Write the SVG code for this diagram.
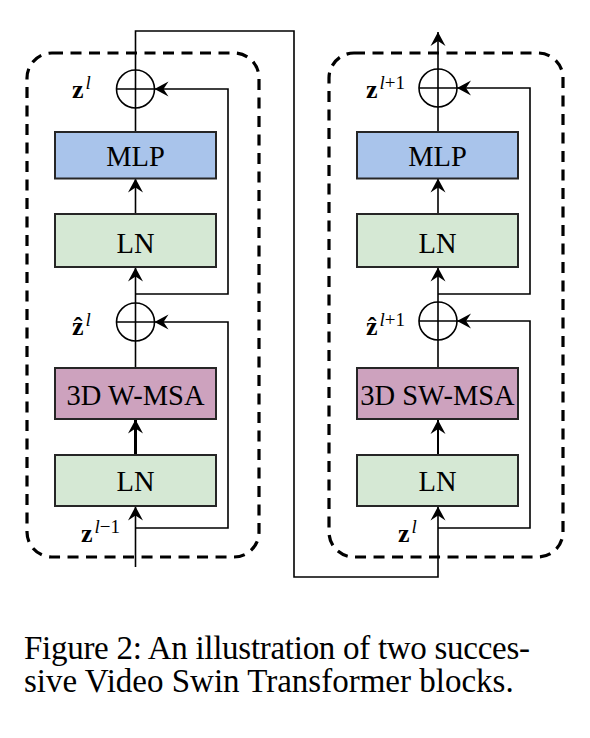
<svg xmlns="http://www.w3.org/2000/svg" width="590" height="738" viewBox="0 0 590 738">
<defs>
<style>
.dash{fill:none;stroke:#000;stroke-width:3.2;stroke-dasharray:11 7.5}
.box{stroke:#262626;stroke-width:2}
.mlp{fill:#A9C4EB}
.ln{fill:#D5E8D4}
.msa{fill:#CDA2BE}
.bt{font-family:"Liberation Serif",serif;font-size:28.5px;fill:#000;text-anchor:middle}
.line{fill:none;stroke:#000;stroke-width:1.6}
.arr{marker-end:url(#ah)}
.circ{fill:none;stroke:#000;stroke-width:1.6}
.mz{font-family:"Liberation Serif",serif;font-size:26px;font-weight:bold;fill:#000}
.sup{font-family:"Liberation Serif",serif;font-size:19px;font-weight:normal}
.it{font-style:italic}
.cap{font-family:"Liberation Serif",serif;font-size:33px;fill:#000}
</style>
<marker id="ah" markerUnits="userSpaceOnUse" viewBox="-15 -8 16 16" refX="0" refY="0" markerWidth="16" markerHeight="16" orient="auto">
<path d="M0,0 L-14,-7.5 L-9,0 L-14,7.5 Z" fill="#000"/>
</marker>
</defs>
<rect width="590" height="738" fill="#fff"/>

<g id="block1">
<rect class="dash" x="27" y="53" width="232" height="504" rx="25"/>
</g>
<g id="block2">
<rect class="dash" x="329" y="53" width="234" height="504" rx="25"/>
</g>

<g id="connectors">
<path class="line arr" d="M135.5,70 V31 H294 V577 H438 V506.5"/>
<path class="line" d="M135.5,108 V132"/>
<path class="line arr" d="M135.5,214 V178.5"/>
<path class="line arr" d="M135.5,303 V267.5"/>
<path class="line arr" d="M135.5,294 H228 V89 H154.5"/>
<path class="line" d="M135.5,368 V341"/>
<path class="line arr" style="stroke-width:3" d="M135.5,455 V419.5"/>
<path class="line arr" d="M135.5,567 V506.5"/>
<path class="line arr" d="M135.5,528 H228 V322 H154.5"/>

<path class="line arr" d="M438,69 V32"/>
<path class="line" d="M438,107 V132"/>
<path class="line arr" d="M438,214 V178.5"/>
<path class="line arr" d="M438,302 V267.5"/>
<path class="line arr" d="M438,294 H530 V88 H457"/>
<path class="line" d="M438,368 V340"/>
<path class="line arr" style="stroke-width:2" d="M438,455 V420"/>
<path class="line arr" d="M438,528 H530 V321 H457"/>
</g>

<g id="add1">
<circle class="circ" cx="135.5" cy="89" r="19"/>
<path class="line" d="M116.5,89 H154.5 M135.5,70 V108"/>
</g>
<g id="add2">
<circle class="circ" cx="135.5" cy="322" r="19"/>
<path class="line" d="M116.5,322 H154.5 M135.5,303 V341"/>
</g>
<g id="add3">
<circle class="circ" cx="438" cy="88" r="19"/>
<path class="line" d="M419,88 H457 M438,69 V107"/>
</g>
<g id="add4">
<circle class="circ" cx="438" cy="321" r="19"/>
<path class="line" d="M419,321 H457 M438,302 V340"/>
</g>

<g id="mlp1">
<rect class="box mlp" x="55" y="132" width="161" height="46.5"/>
<text class="bt" x="135.5" y="165.5">MLP</text>
</g>
<g id="ln1a">
<rect class="box ln" x="55" y="214" width="161" height="53"/>
<text class="bt" x="135.5" y="252.5">LN</text>
</g>
<g id="msa1">
<rect class="box msa" x="55" y="368" width="161" height="51"/>
<text class="bt" x="135.5" y="405">3D W-MSA</text>
</g>
<g id="ln1b">
<rect class="box ln" x="55" y="455" width="161" height="51"/>
<text class="bt" x="135.5" y="490.5">LN</text>
</g>

<g id="mlp2">
<rect class="box mlp" x="357" y="132" width="161" height="46.5"/>
<text class="bt" x="437.5" y="165.5">MLP</text>
</g>
<g id="ln2a">
<rect class="box ln" x="357" y="214" width="161" height="53"/>
<text class="bt" x="437.5" y="252.5">LN</text>
</g>
<g id="msa2">
<rect class="box msa" x="357" y="368" width="161" height="51"/>
<text class="bt" x="437.5" y="405">3D SW-MSA</text>
</g>
<g id="ln2b">
<rect class="box ln" x="357" y="455" width="161" height="51"/>
<text class="bt" x="437.5" y="490.5">LN</text>
</g>

<g id="labels">
<text class="mz" x="72" y="98">z<tspan class="sup it" dx="2" dy="-9">l</tspan></text>
<text class="mz" x="72" y="335">ẑ<tspan class="sup it" dx="2" dy="-9">l</tspan></text>
<text class="mz" x="81" y="542">z<tspan class="sup it" dx="2" dy="-9">l</tspan><tspan class="sup">−1</tspan></text>
<text class="mz" x="366" y="98">z<tspan class="sup it" dx="2" dy="-9">l</tspan><tspan class="sup">+1</tspan></text>
<text class="mz" x="366" y="335">ẑ<tspan class="sup it" dx="2" dy="-9">l</tspan><tspan class="sup">+1</tspan></text>
<text class="mz" x="398" y="542">z<tspan class="sup it" dx="2" dy="-9">l</tspan></text>
</g>

<g id="caption">
<text class="cap" x="24" y="659" textLength="506" lengthAdjust="spacing">Figure 2: An illustration of two succes-</text>
<text class="cap" x="24" y="692">sive Video Swin Transformer blocks.</text>
</g>
</svg>
